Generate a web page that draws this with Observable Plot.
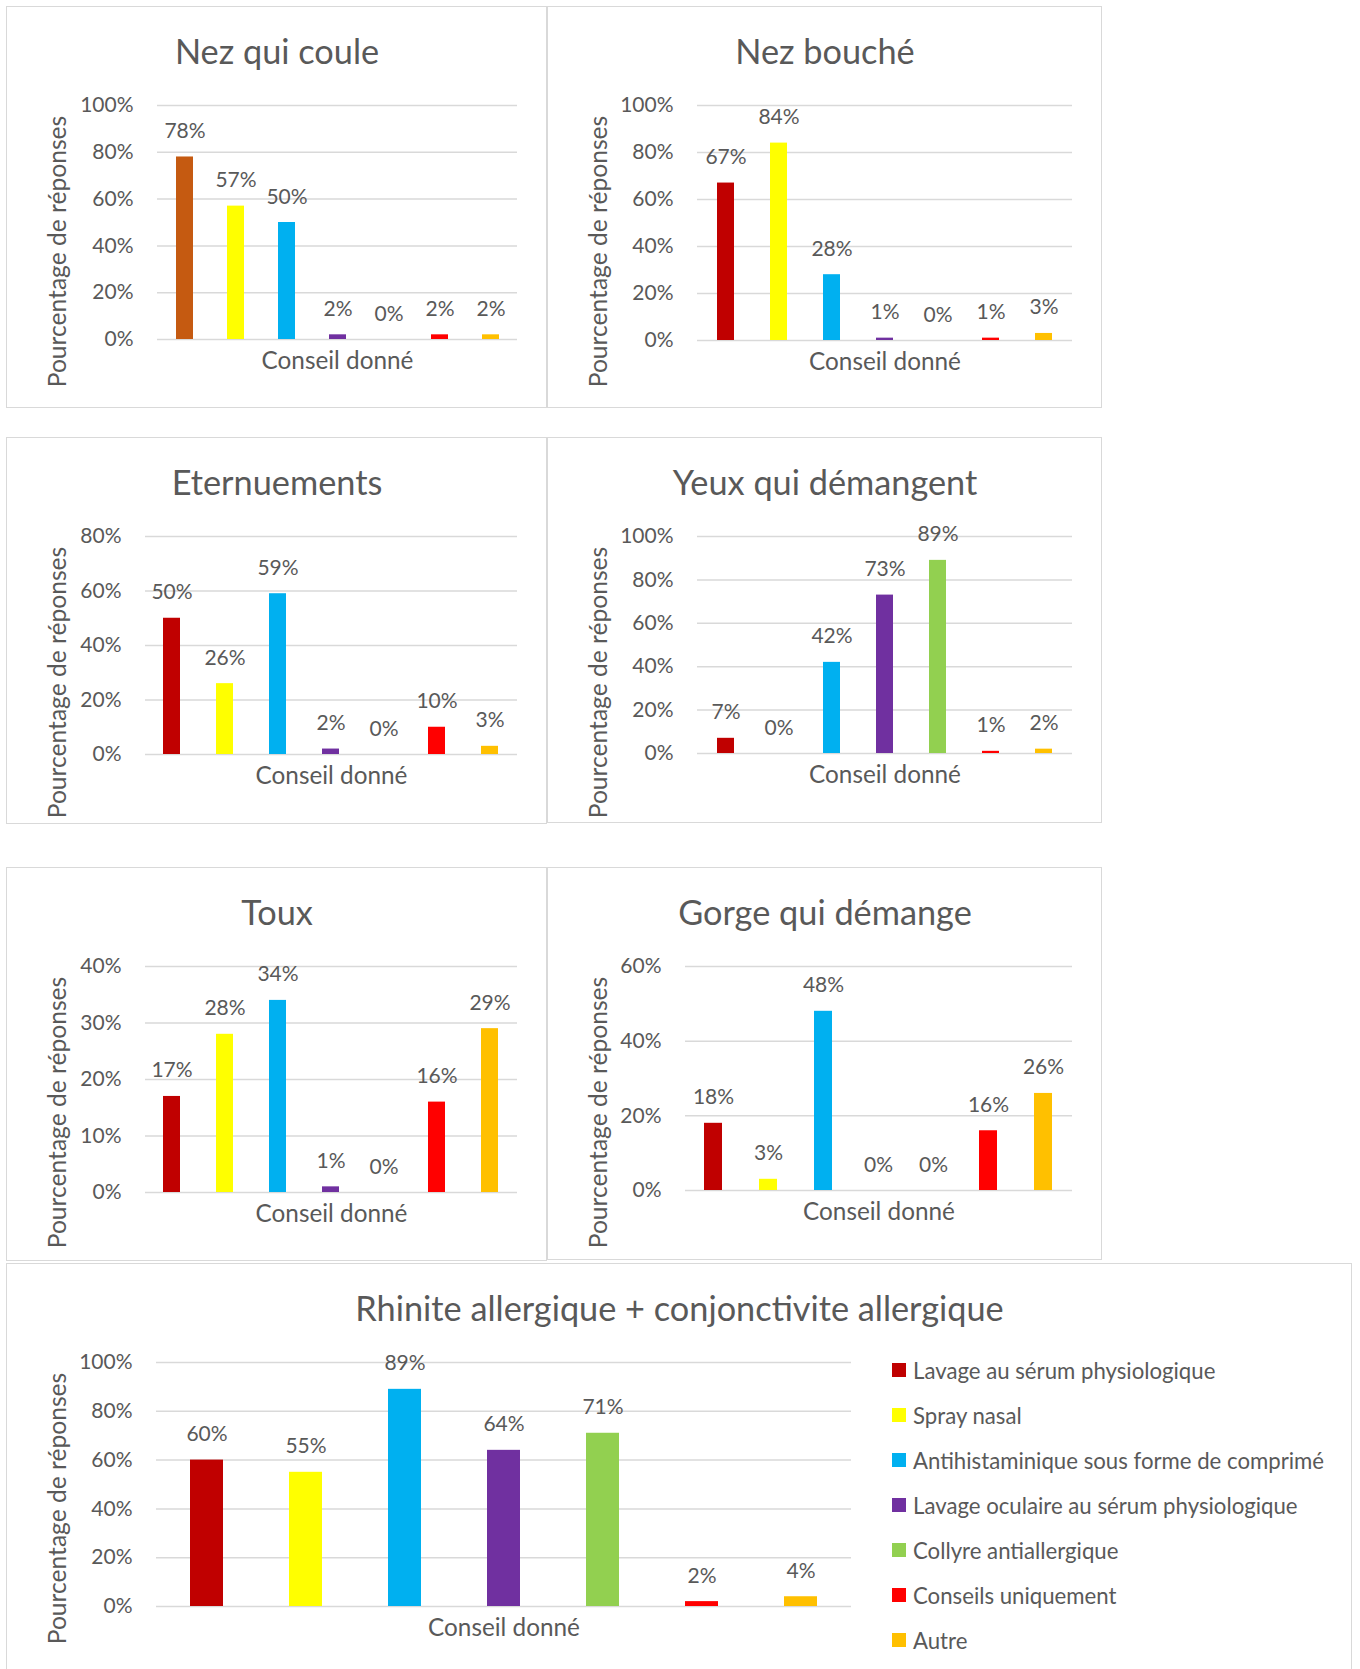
<!DOCTYPE html>
<html><head><meta charset="utf-8">
<script src="https://cdn.jsdelivr.net/npm/d3@7"></script>
<script src="https://cdn.jsdelivr.net/npm/@observablehq/plot@0.6"></script>
<style>
html,body{margin:0;padding:0;background:#fff;}
#root{position:relative;width:1360px;height:1669px;overflow:hidden;background:#fff;font-family:Lato, sans-serif;color:#595959;}
#root svg{position:absolute;outline:1.5px solid #D9D9D9;outline-offset:-1.5px;}
.legend{position:absolute;}
.legend .row{display:flex;align-items:center;height:45px;font-size:22.2px;white-space:nowrap;}
.legend .sw{width:14px;height:14px;margin-right:7px;flex:none;}
</style></head>
<body><div id="root"></div>
<script>
// ---- data ----
const categories = [
  "Lavage au sérum physiologique",
  "Spray nasal",
  "Antihistaminique sous forme de comprimé",
  "Lavage oculaire au sérum physiologique",
  "Collyre antiallergique",
  "Conseils uniquement",
  "Autre"
];
const nezQuiCoule   = [78, 57, 50, 2, 0, 2, 2];
const nezBouche     = [67, 84, 28, 1, 0, 1, 3];
const eternuements  = [50, 26, 59, 2, 0, 10, 3];
const yeuxDemangent = [7, 0, 42, 73, 89, 1, 2];
const toux          = [17, 28, 34, 1, 0, 16, 29];
const gorgeDemange  = [18, 3, 48, 0, 0, 16, 26];
const rhiniteConj   = [60, 55, 89, 64, 71, 2, 4];

const ticks100 = [0, 20, 40, 60, 80, 100];
const ticks80  = [0, 20, 40, 60, 80];
const ticks60  = [0, 20, 40, 60];
const ticks40  = [0, 10, 20, 30, 40];

const xTitle = "Conseil donné";
const yTitle = "Pourcentage de réponses";

// ---- styles ----
const palette = ["#C00000", "#FFFF00", "#00B0F0", "#7030A0", "#92D050", "#FF0000", "#FFC000"];
const paletteNezQuiCoule = ["#C55A11", "#FFFF00", "#00B0F0", "#7030A0", "#92D050", "#FF0000", "#FFC000"];
const TEXT = "#595959", GRID = "#D9D9D9";

const root = document.getElementById("root");

function panel({title, values, ticks, box, m, colors}) {
  const data = categories.map((c, i) => ({cat: c, value: values[i]}));
  const svg = Plot.plot({
    width: box.w, height: box.h,
    marginLeft: m.l, marginRight: m.r, marginTop: m.t, marginBottom: m.b,
    style: {fontFamily: "Lato, sans-serif", color: TEXT, background: "transparent", overflow: "visible"},
    x: {domain: categories, paddingInner: 0.67, paddingOuter: 0.335, axis: null},
    y: {domain: [0, ticks[ticks.length - 1]]},
    color: {domain: categories, range: colors},
    marks: [
      Plot.gridY(ticks, {stroke: GRID, strokeOpacity: 1, strokeWidth: 1.5}),
      Plot.axisY(ticks, {tickSize: 0, tickPadding: 24, tickFormat: d => d + "%", fontSize: 21, label: null}),
      Plot.barY(data, {x: "cat", y: "value", fill: "cat"}),
      Plot.text(data, {x: "cat", y: "value", text: d => Math.round(d.value) + "%", dy: -19, lineAnchor: "bottom", fontSize: 21, fill: TEXT}),
      Plot.text([title], {frameAnchor: "top-left", dx: box.w / 2 - m.l, dy: 57 - m.t, textAnchor: "middle", lineAnchor: "bottom", fontSize: 34.3, fill: TEXT}),
      Plot.text([xTitle], {frameAnchor: "bottom", dy: 29, lineAnchor: "bottom", fontSize: 24.3, fill: TEXT}),
      Plot.text([yTitle], {frameAnchor: "top-left", dx: 59 - m.l, dy: 245 - m.t, rotate: -90, textAnchor: "middle", lineAnchor: "bottom", fontSize: 24.6, fill: TEXT})
    ]
  });
  svg.style.left = box.x + "px";
  svg.style.top = box.y + "px";
  root.appendChild(svg);
}

panel({title: "Nez qui coule", values: nezQuiCoule, ticks: ticks100, colors: paletteNezQuiCoule,
  box: {x: 6, y: 6, w: 541, h: 402}, m: {l: 151, r: 30, t: 99, b: 69}});
panel({title: "Nez bouché", values: nezBouche, ticks: ticks100, colors: palette,
  box: {x: 547, y: 6, w: 555, h: 402}, m: {l: 150, r: 30, t: 99, b: 68}});
panel({title: "Eternuements", values: eternuements, ticks: ticks80, colors: palette,
  box: {x: 6, y: 437, w: 541, h: 387}, m: {l: 139, r: 30, t: 99, b: 70}});
panel({title: "Yeux qui démangent", values: yeuxDemangent, ticks: ticks100, colors: palette,
  box: {x: 547, y: 437, w: 555, h: 386}, m: {l: 150, r: 30, t: 99, b: 70}});
panel({title: "Toux", values: toux, ticks: ticks40, colors: palette,
  box: {x: 6, y: 867, w: 541, h: 394}, m: {l: 139, r: 30, t: 99, b: 69}});
panel({title: "Gorge qui démange", values: gorgeDemange, ticks: ticks60, colors: palette,
  box: {x: 547, y: 867, w: 555, h: 393}, m: {l: 138, r: 30, t: 99, b: 70}});
panel({title: "Rhinite allergique + conjonctivite allergique", values: rhiniteConj, ticks: ticks100, colors: palette,
  box: {x: 6, y: 1263, w: 1346, h: 410}, m: {l: 150, r: 501, t: 99, b: 67}});

// legend
const legend = document.createElement("div");
legend.className = "legend";
legend.style.left = "892px";
legend.style.top = "1347.5px";
categories.forEach((c, i) => {
  const row = document.createElement("div");
  row.className = "row";
  const sw = document.createElement("span");
  sw.className = "sw";
  sw.style.background = palette[i];
  const t = document.createElement("span");
  t.textContent = c;
  row.appendChild(sw); row.appendChild(t);
  legend.appendChild(row);
});
root.appendChild(legend);
</script>
</body></html>
